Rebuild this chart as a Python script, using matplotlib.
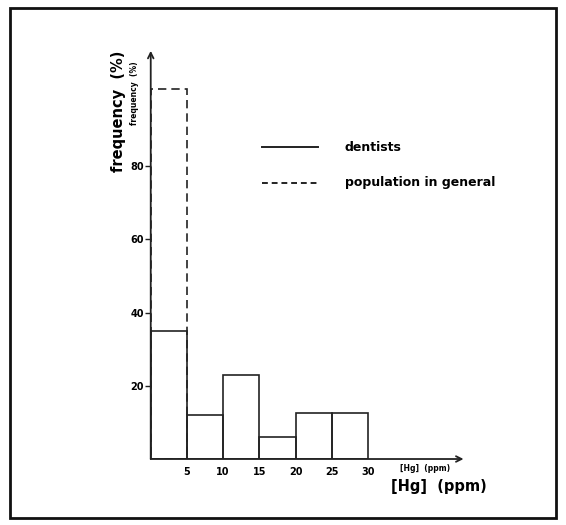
import matplotlib
matplotlib.use("Agg")
import matplotlib.pyplot as plt
from matplotlib.patches import Rectangle

# histogram data
bin_edges = [0, 5, 10, 15, 20, 25, 30]
dentists = [35, 12, 23, 6, 12.5, 12.5]
population_edges = [0, 5]
population = [101]
y_ticks = [20, 40, 60, 80]
x_ticks = [5, 10, 15, 20, 25, 30]

plt.rcParams["font.family"] = ["DejaVu Sans"]

fig = plt.figure(figsize=(5.66, 5.25), dpi=100)
fig.patch.set_facecolor("white")

# hand-drawn style frame around the whole figure
fig.patches.append(Rectangle((0.018, 0.013), 0.964, 0.972, transform=fig.transFigure,
                             fill=False, edgecolor="#111111", linewidth=2.0))

ax = fig.add_axes([0.2663, 0.1257, 0.5565, 0.781])
ax.set_xlim(0, 43.5)
ax.set_ylim(0, 112)
for s in ax.spines.values():
    s.set_visible(False)

widths = [bin_edges[i + 1] - bin_edges[i] for i in range(len(dentists))]
ax.bar(population_edges[:-1], population, width=5, align="edge", fill=False,
       edgecolor="#222222", linestyle=(0, (5, 3)), linewidth=1.2)
ax.bar(bin_edges[:-1], dentists, width=widths, align="edge", fill=False,
       edgecolor="#222222", linewidth=1.2)

# axes with arrow heads
arrow = dict(arrowstyle="->", color="#222222", linewidth=1.3, shrinkA=0, shrinkB=0)
ax.annotate("", xy=(43.2, 0), xytext=(0, 0), arrowprops=arrow, annotation_clip=False)
ax.annotate("", xy=(0, 111.5), xytext=(0, 0), arrowprops=arrow, annotation_clip=False)

ax.set_yticks(y_ticks)
ax.set_yticklabels([str(v) for v in y_ticks], fontsize=7, fontweight="bold")
ax.tick_params(axis="y", length=4, width=1, pad=1, color="#222222")
ax.set_xticks(x_ticks)
ax.set_xticklabels([str(v) for v in x_ticks], fontsize=7, fontweight="bold")
ax.tick_params(axis="x", length=0, pad=6)

# small labels next to the arrows
ax.text(34.4, -1.5, "[Hg]  (ppm)", fontsize=5.5, fontweight="bold", va="top", ha="left")
ax.text(-2.3, 100, "frequency  (%)", fontsize=5.5, fontweight="bold", rotation=90,
        ha="center", va="center")

# big axis labels
ax.text(33.2, -7.5, "[Hg]  (ppm)", fontsize=10.5, fontweight="bold", va="center", ha="left")
ax.text(-4.5, 95, "frequency  (%)", fontsize=10.5, fontweight="bold", rotation=90,
        ha="center", va="center")

# legend drawn by hand
ax.plot([15.4, 23.1], [85.2, 85.2], color="#222222", linewidth=1.4)
ax.plot([15.4, 23.1], [75.4, 75.4], color="#222222", linewidth=1.4, linestyle=(0, (3, 2)))
ax.text(26.8, 85.2, "dentists", fontsize=9, fontweight="bold", va="center")
ax.text(26.8, 75.4, "population in general", fontsize=9, fontweight="bold", va="center")

fig.savefig("out.png", dpi=100)
